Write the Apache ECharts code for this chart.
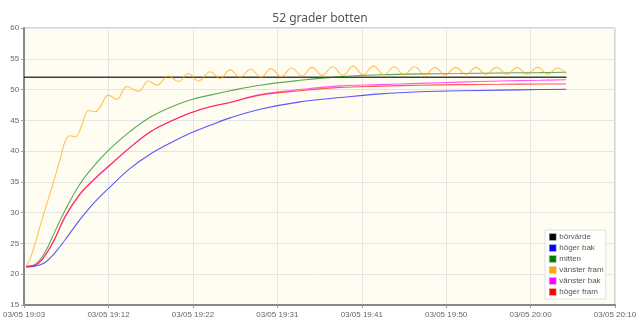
<!DOCTYPE html>
<html>
<head>
<meta charset="utf-8">
<script src="https://cdn.jsdelivr.net/npm/echarts@6/dist/echarts.min.js"></script>
<style>html,body{margin:0;padding:0;background:#fff}#c{width:640px;height:336px}</style>
</head>
<body>
<div id="c"></div>
<script>
// minutes after 19:03
var tickLabels = ["03/05 19:03","03/05 19:12","03/05 19:22","03/05 19:31","03/05 19:41","03/05 19:50","03/05 20:00","03/05 20:10"];
var seriesNames = ["börvärde","höger bak","mitten","vänster fram","vänster bak","höger fram"];
var seriesColors = ["#000000","#0000ff","#008000","#ffa500","#ff00ff","#ff0000"];

var setpointMin = [0, 61.5];
var setpointVal = [52, 52];

var minutes = [0.23,1.25,2.38,3.51,4.65,6.35,8.05,9.75,12.02,14.28,16.55,18.82,21.09,23.35,26.76,31.29,35.83,40.36,44.89,49.43,53.96,58.5,61.45];
var hogerBak   = [21.2,21.3,21.9,23.5,25.6,28.9,31.8,34.2,37.2,39.5,41.3,42.9,44.2,45.4,46.8,48.0,48.7,49.3,49.65,49.8,49.9,50.0,50.05];
var mitten     = [21.3,21.6,23.6,27.0,30.4,34.7,37.8,40.4,43.2,45.5,47.1,48.3,49.1,49.8,50.7,51.5,52.1,52.4,52.55,52.6,52.7,52.75,52.8];
var vansterBak = [21.2,21.4,23.0,25.8,29.3,33.0,35.5,37.7,40.6,43.1,44.8,46.2,47.2,47.9,49.2,50.0,50.6,50.8,51.0,51.2,51.4,51.5,51.6];
var hogerFram  = [21.3,21.5,23.1,25.9,29.4,33.1,35.6,37.8,40.6,43.1,44.8,46.2,47.2,47.9,49.1,49.8,50.35,50.55,50.7,50.8,50.85,50.9,50.9];

var vansterFramMin = [0.31,0.68,1.25,1.81,2.61,3.29,4.08,4.65,5.22,5.78,6.54,7.29,8.05,8.62,9.56,10.51,11.64,12.96,14.09,15.04,16.36,17.49,18.63,19.76,21.09,22.22,23.35,24.49,25.68,26.87,28.0,29.14,30.33,31.52,32.65,33.78,34.97,36.16,37.30,38.43,39.62,40.81,41.95,43.08,44.27,45.46,46.59,47.73,48.92,50.11,51.24,52.37,53.57,54.76,55.89,57.02,58.22,59.41,60.43,61.53];
var vansterFram    = [21.5,22.5,25.0,27.8,31.6,34.8,38.7,41.6,42.5,42.3,44.2,46.6,46.4,47.2,49.1,48.4,50.5,49.7,51.4,50.7,52.2,51.3,52.6,51.4,52.9,51.8,53.2,52.0,53.3,52.0,53.4,52.1,53.5,52.2,53.6,52.3,53.7,52.3,53.8,52.4,53.8,52.4,53.7,52.4,53.7,52.4,53.6,52.4,53.6,52.5,53.6,52.5,53.6,52.5,53.6,52.5,53.6,52.5,53.5,52.6];

var xMax = 67, nTicks = 7, xInterval = xMax / nTicks;

function pairs(xs, ys){ return xs.map(function(x,i){ return [x, ys[i]]; }); }

var dataSets = [
  pairs(setpointMin, setpointVal),
  pairs(minutes, hogerBak),
  pairs(minutes, mitten),
  pairs(vansterFramMin, vansterFram),
  pairs(minutes, vansterBak),
  pairs(minutes, hogerFram)
];

var chart = echarts.init(document.getElementById('c'), null, {renderer:'canvas'});
var labelFont = 'Liberation Sans';
chart.setOption({
  animation: false,
  backgroundColor: '#ffffff',
  title: {
    text: '52 grader botten', left: 'center', top: 8,
    textStyle: {fontFamily: 'Noto Sans', fontSize: 12, fontWeight: 'normal', color: '#555'}
  },
  grid: {left: 24, right: 25, top: 28, bottom: 31, show: true, backgroundColor: '#fffcf2', borderColor: '#b0b0b0', borderWidth: 1},
  legend: {
    orient: 'vertical', left: 545, top: 230,
    data: seriesNames, icon: 'rect', itemWidth: 7, itemHeight: 7, itemGap: 3,
    padding: [3, 2, 3, 4],
    backgroundColor: 'rgba(255,255,255,0.85)', borderColor: '#e0e0e0', borderWidth: 1,
    textStyle: {fontFamily: labelFont, fontSize: 8, color: '#555', padding: [0,0,0,-2]},
    itemStyle: {borderColor: '#ccc', borderWidth: 0.5}
  },
  xAxis: {
    type: 'value', min: 0, max: xMax, interval: xInterval,
    axisLine: {show: true, lineStyle: {color: '#888', width: 2}},
    axisTick: {show: true, length: 3, lineStyle: {color: '#999'}},
    splitLine: {show: true, lineStyle: {color: '#e4e4e4', width: 1}},
    axisLabel: {fontFamily: labelFont, fontSize: 8, color: '#666', margin: 6,
      formatter: function(v){ return tickLabels[Math.round(v / xInterval)] || ''; }}
  },
  yAxis: {
    type: 'value', min: 15, max: 60, interval: 5,
    axisLine: {show: true, lineStyle: {color: '#888', width: 2}},
    axisTick: {show: true, length: 3, lineStyle: {color: '#999'}},
    splitLine: {show: true, lineStyle: {color: '#e4e4e4', width: 1}},
    axisLabel: {fontFamily: labelFont, fontSize: 8, color: '#666', margin: 5}
  },
  series: seriesNames.map(function(name, i){
    return {
      name: name, type: 'line', data: dataSets[i], showSymbol: false, symbol: 'none',
      smooth: i === 0 ? false : 0.4,
      lineStyle: {color: seriesColors[i], width: i === 0 ? 1.3 : 1.1, opacity: i === 0 ? 0.75 : 0.65},
      itemStyle: {color: seriesColors[i]}
    };
  })
});
</script>
</body>
</html>
